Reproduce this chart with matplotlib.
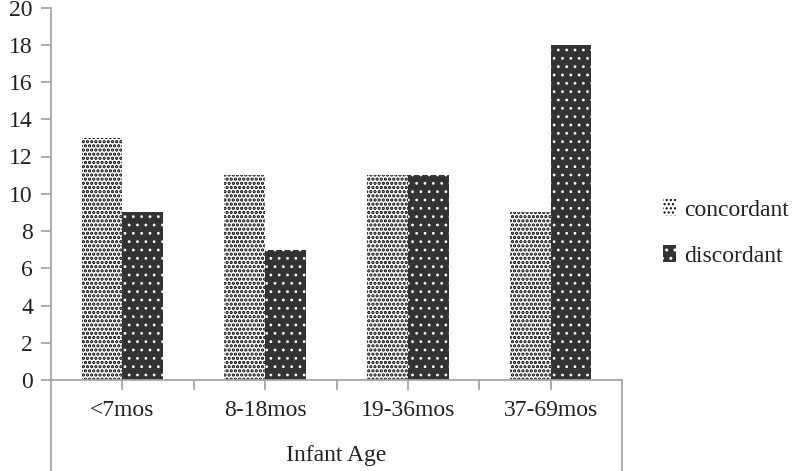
import matplotlib
matplotlib.use("Agg")
import matplotlib.pyplot as plt
import numpy as np
from matplotlib.patches import Patch

categories = ["<7mos", "8-18mos", "19-36mos", "37-69mos"]
concordant = [13, 11, 11, 9]
discordant = [9, 7, 11, 18]
series_names = ["concordant", "discordant"]
x_title = "Infant Age"

plt.rcParams['font.family'] = ['Liberation Serif', 'DejaVu Serif']

fig = plt.figure(figsize=(8.0, 4.71), dpi=100)
ax = fig.add_axes([51/800, 1-380/471, (622-51)/800, (380-7.5)/471])

x = np.arange(len(categories))
w = 0.285
dark = "#333333"
axc = "#a6a6a6"
txt = "#222222"
fs = 17

# concordant: white with dense black dots
with plt.rc_context({'hatch.linewidth': 1.6}):
    ax.bar(x, concordant, width=-w, align='edge', color='white', edgecolor='black',
           hatch='....', linewidth=0, zorder=2)
    h1 = Patch(facecolor='white', edgecolor='black', hatch='....', linewidth=0)
# discordant: dark with white dots
ax.bar(x, discordant, width=w, align='edge', color=dark, linewidth=0, zorder=2)
with plt.rc_context({'hatch.linewidth': 0.8}):
    ax.bar(x, discordant, width=w, align='edge', facecolor='none', edgecolor='white',
           hatch='..', linewidth=0, zorder=3)
    h2 = Patch(facecolor=dark, edgecolor='white', hatch='..', linewidth=0)

ax.set_xlim(-0.5, 3.5)
ax.set_ylim(0, 20)
ax.set_yticks(range(0, 21, 2))
ax.tick_params(axis='y', length=7, color=axc, width=1.3, labelsize=fs, labelcolor=txt, pad=6)
ax.set_xticks(np.arange(0.0, 3.5, 0.5))
ax.set_xticklabels([])
ax.tick_params(axis='x', length=7, color=axc, width=1.3, direction='out')

for s in ['top', 'right']:
    ax.spines[s].set_visible(False)
for s in ['left', 'bottom']:
    ax.spines[s].set_color(axc)
    ax.spines[s].set_linewidth(1.3)

# extended box lines below axis
ax.plot([0, 0], [0, -0.3], transform=ax.transAxes, color=axc, lw=1.3, clip_on=False)
ax.plot([1, 1], [0, -0.3], transform=ax.transAxes, color=axc, lw=1.3, clip_on=False)

for xi, c in zip(x, categories):
    ax.text(xi, -0.082, c, transform=ax.get_xaxis_transform(), ha='center', va='center',
            fontsize=fs, color=txt)
ax.text(0.5, -0.203, x_title, transform=ax.transAxes, ha='center', va='center',
        fontsize=fs, color=txt)

leg = fig.legend([h1, h2], series_names, loc='center left', bbox_to_anchor=(642/800, 1-233/471),
                 frameon=False, fontsize=fs, handlelength=0.55, handleheight=0.7,
                 handletextpad=0.35, labelspacing=1.05, labelcolor=txt)

fig.savefig("out.png", dpi=100)
